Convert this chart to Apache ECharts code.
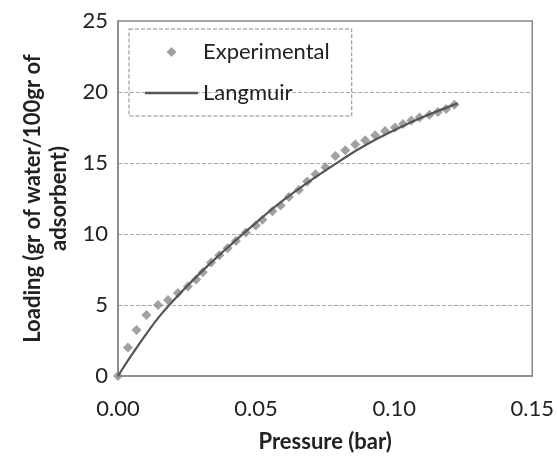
<!DOCTYPE html>
<html><head><meta charset="utf-8">
<script src="https://cdn.jsdelivr.net/npm/echarts@6/dist/echarts.min.js"></script>
<style>html,body{margin:0;padding:0;background:#fff}#c{width:557px;height:464px}</style>
</head><body><div id="c"></div>
<script>
var expP = [0, 0.0036, 0.0067, 0.0103, 0.0145, 0.0181, 0.0217, 0.0253, 0.0283, 0.0307, 0.0337, 0.0367, 0.0397, 0.0427, 0.0463, 0.0499, 0.0523, 0.0559, 0.0589, 0.0619, 0.0655, 0.0685, 0.0715, 0.0751, 0.0787, 0.0823, 0.0859, 0.0895, 0.0931, 0.0967, 0.1003, 0.1032, 0.1062, 0.1092, 0.1128, 0.1158, 0.1188, 0.1218];
var expQ = [0, 2.0, 3.24, 4.3, 5.0, 5.35, 5.85, 6.3, 6.8, 7.3, 8.0, 8.5, 9.0, 9.5, 10.1, 10.6, 11.0, 11.6, 12.0, 12.6, 13.1, 13.7, 14.2, 14.7, 15.5, 15.9, 16.3, 16.6, 16.95, 17.25, 17.5, 17.75, 18.0, 18.2, 18.4, 18.6, 18.8, 19.1];
var langP = [0, 0.005, 0.01, 0.015, 0.02, 0.03, 0.04, 0.05, 0.06, 0.07, 0.08, 0.09, 0.10, 0.11, 0.123];
var langQ = [0, 1.5, 2.9, 4.2, 5.3, 7.3, 9.1, 10.8, 12.4, 13.8, 15.1, 16.3, 17.3, 18.2, 19.2];
var xTicks = [0, 0.05, 0.10, 0.15];
var yTicks = [0, 5, 10, 15, 20, 25];

function zip(a, b) { return a.map(function (v, i) { return [v, b[i]]; }); }
var font = 'Lato, "Noto Sans", sans-serif';
var chart = echarts.init(document.getElementById('c'), null, {renderer: 'canvas'});
chart.setOption({
  animation: false,
  textStyle: {fontFamily: font},
  grid: {left: 118, right: 22, top: 21, bottom: 88, show: true, borderColor: '#888', borderWidth: 1.5},
  legend: {
    orient: 'vertical', left: 129, top: 29,
    padding: [12, 22, 12, 16], itemGap: 19, itemWidth: 53, itemHeight: 10,
    borderColor: '#888', borderWidth: 1, borderType: 'dashed',
    textStyle: {fontFamily: font, fontSize: 22, color: '#222'},
    data: [
      {name: 'Experimental', icon: 'path://M5,0L10,5L5,10L0,5Z', itemStyle: {color: '#8a8a8a'}},
      {name: 'Langmuir', icon: 'path://M0,0H53V2.4H0Z', itemStyle: {color: '#555'}}
    ]
  },
  xAxis: {
    type: 'value', min: 0, max: 0.15, interval: 0.05,
    axisLine: {show: true, lineStyle: {color: '#888', width: 1.5}},
    axisTick: {show: false}, splitLine: {show: false},
    axisLabel: {fontSize: 22, color: '#222', margin: 22, fontFamily: font,
      formatter: function (v) { return v.toFixed(2); }},
    name: 'Pressure (bar)', nameLocation: 'middle', nameGap: 55,
    nameTextStyle: {fontSize: 22, fontWeight: 'bold', color: '#222', fontFamily: font}
  },
  yAxis: {
    type: 'value', min: 0, max: 25, interval: 5,
    axisLine: {show: true, lineStyle: {color: '#888', width: 1.5}},
    axisTick: {show: false},
    splitLine: {show: true, lineStyle: {color: '#aaa', type: 'dashed', width: 1}},
    axisLabel: {fontSize: 22, color: '#222', margin: 10, fontFamily: font},
    name: 'Loading (gr of water/100gr of\nadsorbent)', nameLocation: 'middle', nameGap: 46,
    nameTextStyle: {fontSize: 22, fontWeight: 'bold', color: '#222', lineHeight: 26, fontFamily: font}
  },
  series: [
    {name: 'Experimental', type: 'scatter', symbol: 'diamond', symbolSize: 10,
     itemStyle: {color: '#8a8a8a'}, data: zip(expP, expQ), z: 2},
    {name: 'Langmuir', type: 'line', showSymbol: false, symbol: 'none', smooth: true,
     lineStyle: {color: '#555', width: 2.2}, itemStyle: {color: '#555'},
     data: zip(langP, langQ), z: 3}
  ]
});
</script></body></html>
